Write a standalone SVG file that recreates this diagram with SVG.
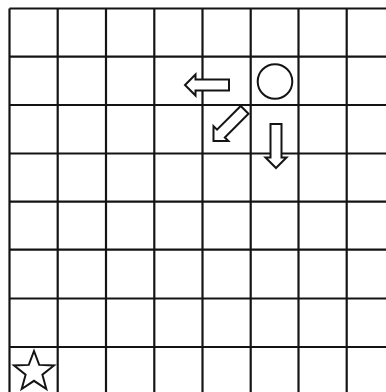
<svg xmlns="http://www.w3.org/2000/svg" xmlns:xlink="http://www.w3.org/1999/xlink" width="386" height="392" viewBox="0 0 386 392">
  <style>
    .grid line { stroke: #141414; stroke-width: 2.2; }
    .shape { fill: #ffffff; stroke: #141414; stroke-width: 2; stroke-linejoin: miter; }
  </style>
  <defs>
    <path id="arrow" d="M0,0 L-10.5,-10.5 L-10.5,-5.5 L-44,-5.5 L-44,5.5 L-10.5,5.5 L-10.5,10.5 Z"/>
  </defs>
  <rect x="0" y="0" width="386" height="392" fill="#ffffff"/>
  <g id="grid" class="grid">
    <line x1="9.5" y1="8.5" x2="9.5" y2="392"/>
    <line x1="57.7" y1="8.5" x2="57.7" y2="392"/>
    <line x1="106" y1="8.5" x2="106" y2="392"/>
    <line x1="154.3" y1="8.5" x2="154.3" y2="392"/>
    <line x1="202.5" y1="8.5" x2="202.5" y2="392"/>
    <line x1="250.7" y1="8.5" x2="250.7" y2="392"/>
    <line x1="298.5" y1="8.5" x2="298.5" y2="392"/>
    <line x1="346.7" y1="8.5" x2="346.7" y2="392"/>
    <line x1="9.5" y1="8.5" x2="386" y2="8.5"/>
    <line x1="9.5" y1="56.7" x2="386" y2="56.7"/>
    <line x1="9.5" y1="105" x2="386" y2="105"/>
    <line x1="9.5" y1="153.5" x2="386" y2="153.5"/>
    <line x1="9.5" y1="201.7" x2="386" y2="201.7"/>
    <line x1="9.5" y1="249.7" x2="386" y2="249.7"/>
    <line x1="9.5" y1="298.5" x2="386" y2="298.5"/>
    <line x1="9.5" y1="347" x2="386" y2="347"/>
  </g>
  <g id="arrow-left">
    <use xlink:href="#arrow" href="#arrow" class="shape" transform="translate(185,85) rotate(180)"/>
  </g>
  <g id="circle">
    <circle class="shape" cx="275" cy="81.5" r="17.3"/>
  </g>
  <g id="arrow-diagonal">
    <use xlink:href="#arrow" href="#arrow" class="shape" transform="translate(213.5,141) rotate(135)"/>
  </g>
  <g id="arrow-down">
    <use xlink:href="#arrow" href="#arrow" class="shape" transform="translate(276,168) rotate(90)"/>
  </g>
  <g id="star">
    <polygon class="shape" points="34,351 39.2,364.9 54,365.5 42.4,374.7 46.3,389 34,380.8 21.7,389 25.6,374.7 14,365.5 28.8,364.9"/>
  </g>
</svg>
